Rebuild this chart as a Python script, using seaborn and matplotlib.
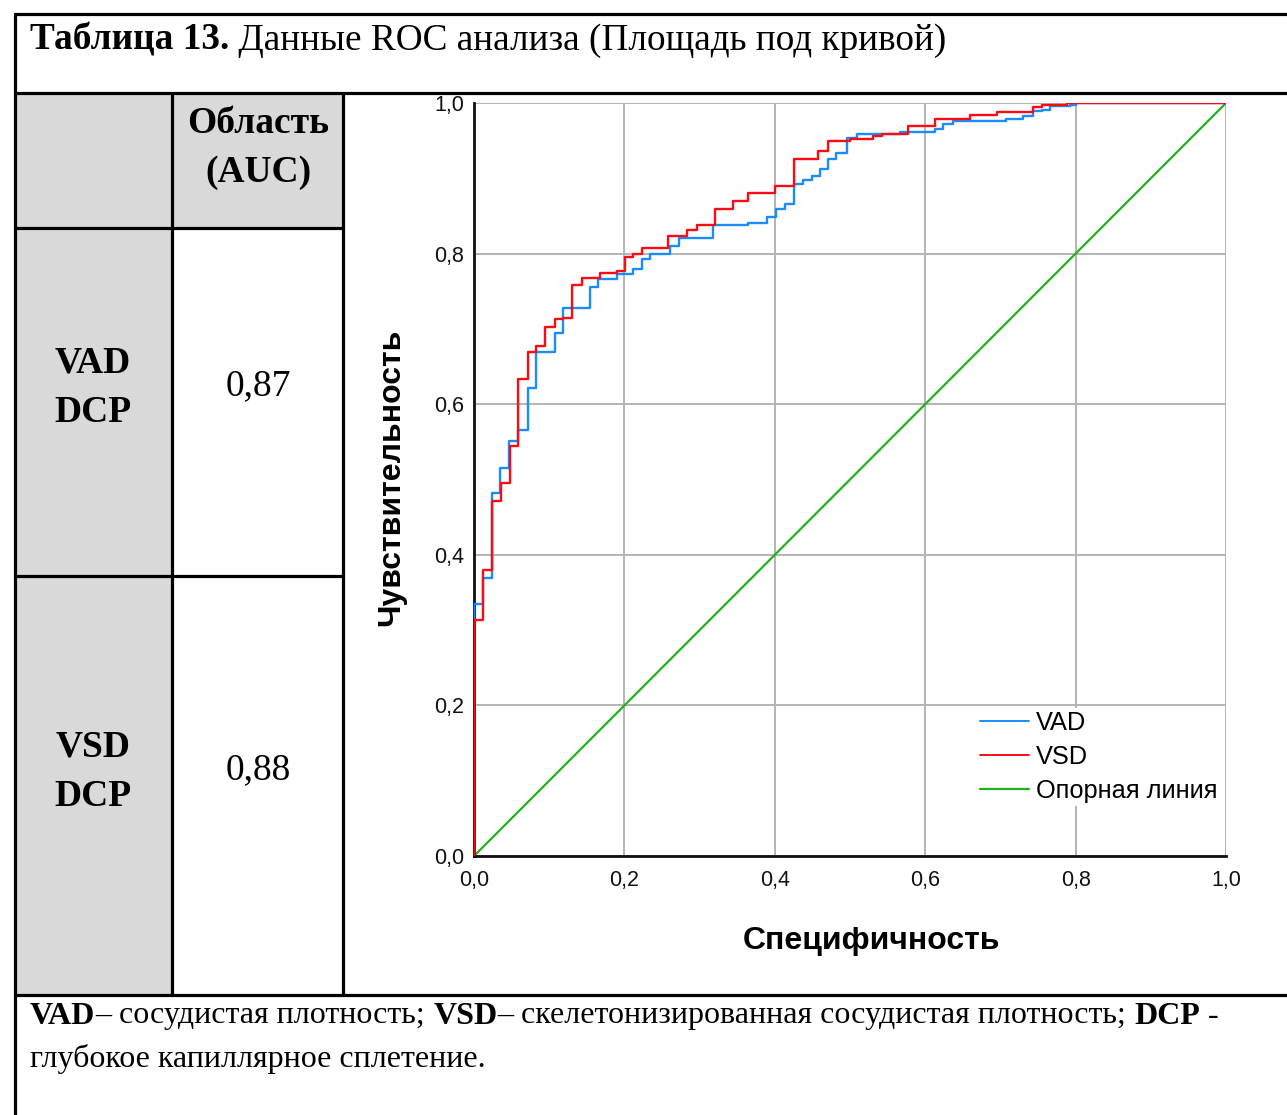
import numpy as np
import pandas as pd
import seaborn as sns
import matplotlib.pyplot as plt
from matplotlib.lines import Line2D


# ROC step vertices (fpr, tpr)
vad_fpr = [0, 0, 0.012, 0.024, 0.035, 0.046, 0.059, 0.072, 0.083, 0.108, 0.119,
           0.154, 0.165, 0.190, 0.212, 0.223, 0.234, 0.261, 0.272, 0.318, 0.365,
           0.389, 0.402, 0.414, 0.425, 0.438, 0.449, 0.460, 0.471, 0.482, 0.496,
           0.509, 0.566, 0.613, 0.624, 0.637, 0.708, 0.730, 0.744, 0.755, 0.766,
           0.793, 0.801, 1.0]
vad_tpr = [0, 0.334, 0.369, 0.482, 0.515, 0.551, 0.566, 0.622, 0.669, 0.695, 0.728,
           0.755, 0.766, 0.773, 0.779, 0.793, 0.799, 0.810, 0.821, 0.838, 0.841,
           0.848, 0.859, 0.866, 0.892, 0.898, 0.903, 0.912, 0.926, 0.934, 0.954,
           0.959, 0.962, 0.966, 0.972, 0.976, 0.979, 0.983, 0.989, 0.991, 0.996,
           0.998, 1.0, 1.0]

vsd_fpr = [0, 0, 0.012, 0.0235, 0.036, 0.048, 0.059, 0.072, 0.083, 0.094, 0.108,
           0.119, 0.130, 0.143, 0.167, 0.190, 0.201, 0.212, 0.223, 0.258, 0.283,
           0.296, 0.320, 0.345, 0.365, 0.400, 0.425, 0.458, 0.471, 0.500, 0.531,
           0.542, 0.577, 0.613, 0.660, 0.695, 0.744, 0.755, 0.788, 1.0]
vsd_tpr = [0, 0.314, 0.380, 0.471, 0.496, 0.544, 0.633, 0.669, 0.677, 0.702, 0.713,
           0.715, 0.758, 0.768, 0.774, 0.777, 0.795, 0.799, 0.808, 0.823, 0.832,
           0.838, 0.859, 0.870, 0.880, 0.890, 0.926, 0.936, 0.949, 0.952, 0.956,
           0.959, 0.969, 0.979, 0.984, 0.988, 0.995, 0.998, 1.0, 1.0]

ref_x = [0, 1]
ref_y = [0, 1]

ticks = [0, 0.2, 0.4, 0.6, 0.8, 1.0]
tick_labels = ['0,0', '0,2', '0,4', '0,6', '0,8', '1,0']

auc_rows = ['VAD\nDCP', 'VSD\nDCP']
auc_vals = ['0,87', '0,88']

colors = {'VAD': '#1a8cff', 'VSD': '#ff0a14'}
ref_color = '#22b022'

sns.set_style('white')
plt.rcParams['font.family'] = ['Liberation Sans', 'DejaVu Sans']
plt.rcParams['text.color'] = 'black'
plt.rcParams['axes.labelcolor'] = 'black'

roc = pd.concat([
    pd.DataFrame({'fpr': vad_fpr, 'tpr': vad_tpr, 'var': 'VAD'}),
    pd.DataFrame({'fpr': vsd_fpr, 'tpr': vsd_tpr, 'var': 'VSD'}),
], ignore_index=True)

W, H = 1287, 1115
fig = plt.figure(figsize=(W / 100, H / 100), dpi=100)

# table background drawn in pixel coords
bg = fig.add_axes([0, 0, 1, 1], zorder=0)
bg.set_xlim(0, W)
bg.set_ylim(H, 0)
bg.axis('off')

gray = '#d9d9d9'
bg.fill_between([14, 172], 93, 995, color=gray, lw=0)
bg.fill_between([172, 343], 93, 228, color=gray, lw=0)

lw = 2.3
for y in [14, 93, 995]:
    bg.plot([14, W + 5], [y, y], color='black', lw=lw, solid_capstyle='butt')
for y in [228, 576]:
    bg.plot([14, 343], [y, y], color='black', lw=lw, solid_capstyle='butt')
bg.plot([15, 15], [14, H + 5], color='black', lw=lw)
for x in [172, 343]:
    bg.plot([x, x], [93, 995], color='black', lw=lw)

serif = ['Liberation Serif', 'DejaVu Serif']


def chain(ax, x, y, pieces, size):
    # draw text pieces one after another, bold / regular mixed
    prev = None
    for txt, weight in pieces:
        if prev is None:
            prev = ax.text(x, y, txt, fontsize=size, fontweight=weight,
                           family=serif, va='center', ha='left')
        else:
            prev = ax.annotate(txt, xy=(1, 0), xycoords=prev, fontsize=size,
                               fontweight=weight, family=serif,
                               va='bottom', ha='left')
    return prev


chain(bg, 30, 40, [('Таблица 13.', 'bold'),
                   (' Данные ROC анализа (Площадь под кривой)', 'normal')], 26.8)

bg.text(258, 148, 'Область\n(AUC)', fontsize=27, fontweight='bold', family=serif,
        ha='center', va='center', linespacing=1.52)
for i, (name, val) in enumerate(zip(auc_rows, auc_vals)):
    yc = 388 + i * 384
    bg.text(93, yc, name, fontsize=27, fontweight='bold', family=serif,
            ha='center', va='center', linespacing=1.52)
    bg.text(258, yc - 2, val, fontsize=27, family=serif, ha='center', va='center')

chain(bg, 30, 1016, [('VAD', 'bold'), ('– сосудистая плотность; ', 'normal'),
                     ('VSD', 'bold'),
                     ('– скелетонизированная сосудистая плотность; ', 'normal'),
                     ('DCP', 'bold'), (' -', 'normal')], 23)
bg.text(30, 1059, 'глубокое капиллярное сплетение.', fontsize=23, family=serif,
        va='center', ha='left')

# ROC chart
ax = fig.add_axes([474 / W, (H - 856) / H, 752 / W, 753 / H], zorder=2)
ax.set_facecolor('white')

sns.lineplot(data=roc, x='fpr', y='tpr', hue='var', palette=colors,
             estimator=None, sort=False, drawstyle='steps-post', lw=1.7,
             ax=ax, legend=False, zorder=3)
sns.lineplot(x=ref_x, y=ref_y, color=ref_color, lw=1.6, ax=ax, zorder=2)

ax.set_xlim(0, 1)
ax.set_ylim(0, 1)
ax.set_xticks(ticks)
ax.set_yticks(ticks)
ax.set_xticklabels(tick_labels)
ax.set_yticklabels(tick_labels)
ax.grid(True, color='#b4b4b4', lw=1.4)
ax.set_axisbelow(True)
for side in ['top', 'right']:
    ax.spines[side].set_visible(False)
for side in ['left', 'bottom']:
    ax.spines[side].set_color('#111111')
    ax.spines[side].set_linewidth(2.0)
ax.tick_params(axis='both', direction='out', length=4, width=1, color='#333333',
               labelsize=15.5, labelcolor='#111111', pad=3)
ax.tick_params(axis='x', pad=6)

ax.set_xlabel('Специфичность', fontsize=23, fontweight='bold')
ax.set_ylabel('Чувствительность', fontsize=23, fontweight='bold')
ax.xaxis.set_label_coords(0.529, -0.093)
ax.yaxis.set_label_coords(-0.09, 0.503)

handles = [Line2D([], [], color=colors['VAD'], lw=1.4),
           Line2D([], [], color=colors['VSD'], lw=1.4),
           Line2D([], [], color=ref_color, lw=1.6)]
leg = ax.legend(handles, ['VAD', 'VSD', 'Опорная линия'], loc='lower right',
                bbox_to_anchor=(0.993, 0.066), fontsize=18.3, frameon=True,
                framealpha=1, facecolor='white', edgecolor='none',
                handlelength=1.9, handletextpad=0.3, labelspacing=0.4,
                borderpad=0.12, borderaxespad=0, fancybox=False)
leg.set_zorder(5)

fig.savefig('out.png', dpi=100)
